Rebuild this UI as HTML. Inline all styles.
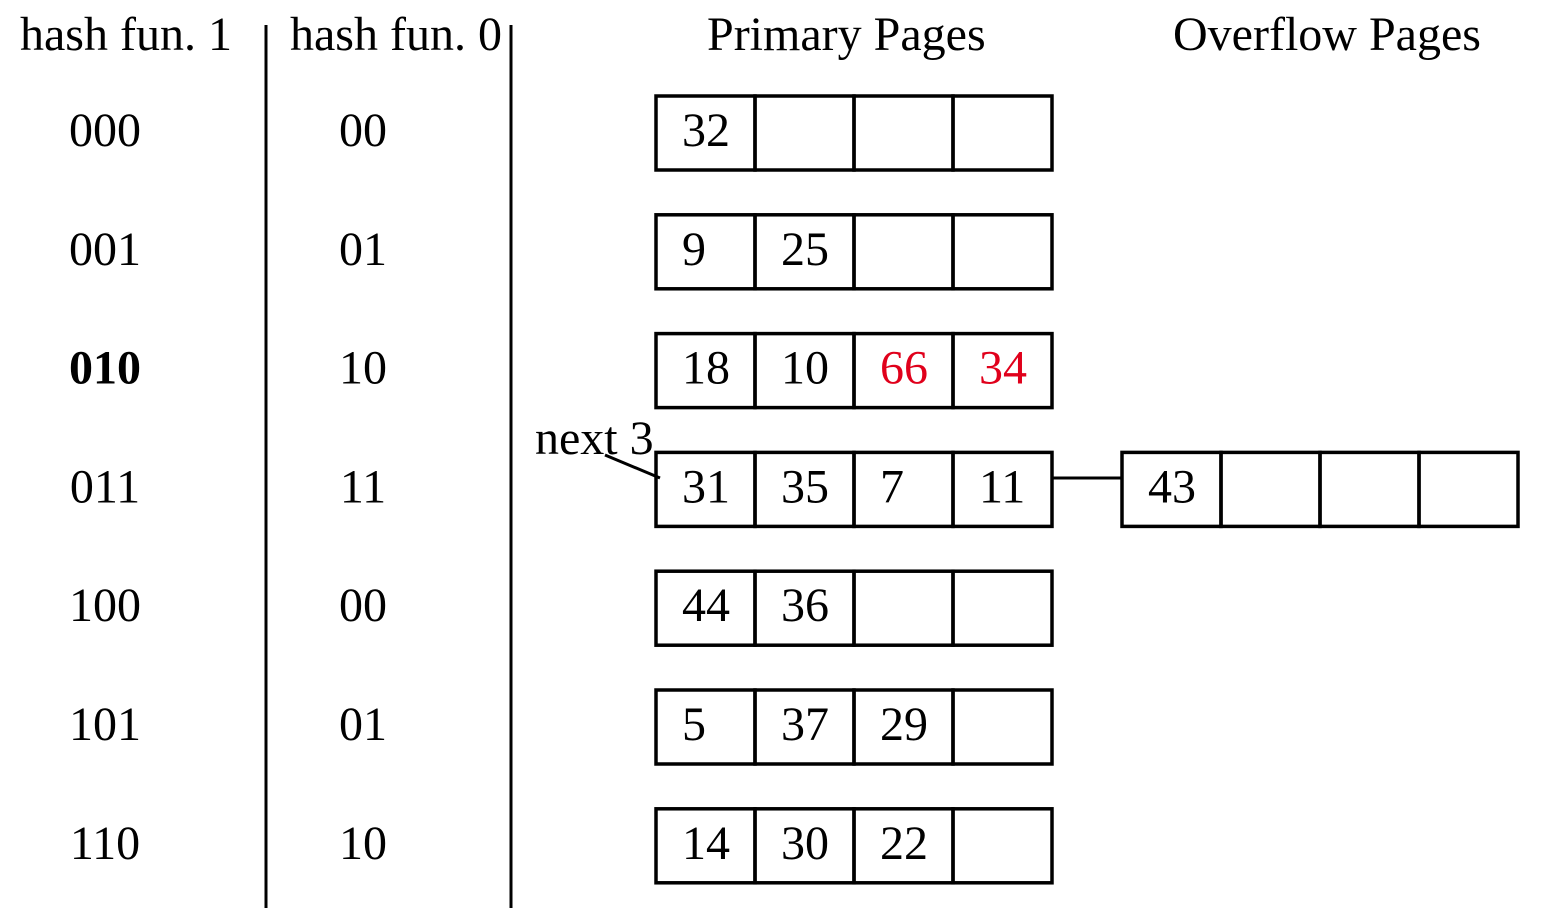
<!DOCTYPE html>
<html><head><meta charset="utf-8"><style>
html,body{margin:0;padding:0;background:#fff;}
svg{display:block;}
text{font-family:"Liberation Serif",serif;font-size:48px;fill:#000;}
</style></head><body>
<svg width="1542" height="912" viewBox="0 0 1542 912">
<text x="20" y="50">hash fun. 1</text>
<text x="290" y="50">hash fun. 0</text>
<text x="707" y="50">Primary Pages</text>
<text x="1173" y="50">Overflow Pages</text>
<line x1="266" y1="25" x2="266" y2="908" stroke="#000" stroke-width="3"/>
<line x1="511" y1="25" x2="511" y2="908" stroke="#000" stroke-width="3"/>
<g id="rows"></g>
<text x="535" y="454">next 3</text>
<line x1="605" y1="455" x2="660" y2="478" stroke="#000" stroke-width="3"/>
<line x1="1053" y1="478" x2="1122" y2="478" stroke="#000" stroke-width="3"/>
</svg>
<script>
const h1 = ["000","001","010","011","100","101","110"];
const h0 = ["00","01","10","11","00","01","10"];
const pages = [["32","","",""],["9","25","",""],["18","10","66","34"],["31","35","7","11"],["44","36","",""],["5","37","29",""],["14","30","22",""]];
const red = [[],[],[2,3],[],[],[],[]];
const overflow = ["43","","",""];
const NS="http://www.w3.org/2000/svg";
const g=document.getElementById('rows');
function t(x,y,s,opts){const e=document.createElementNS(NS,'text');e.setAttribute('x',x);e.setAttribute('y',y);e.textContent=s;
 if(opts&&opts.bold)e.setAttribute('font-weight','bold');if(opts&&opts.red)e.setAttribute('style','fill:#e0001b');
 if(opts&&opts.anchor)e.setAttribute('text-anchor',opts.anchor);g.appendChild(e);return e;}
function box(x0,top,vals,redIdx,name){
 for(let c=0;c<4;c++){const r=document.createElementNS(NS,'rect');
  r.setAttribute('x',x0+c*99);r.setAttribute('y',top);r.setAttribute('width',99);r.setAttribute('height',74);
  r.setAttribute('fill','none');r.setAttribute('stroke','#000');r.setAttribute('stroke-width','3.5');
  
  
  g.appendChild(r);
  if(vals[c]){const e=t(x0+c*99+26,top+50,vals[c],{red:redIdx.includes(c)});
   
   }
 }
}
for(let i=0;i<h1.length;i++){
 const cy=130+i*118.8;
 const a=t(105,cy+16,h1[i],{anchor:'middle',bold:i===2});
 
 
 const b=t(363,cy+16,h0[i],{anchor:'middle'});
 
 
 box(656,cy-34,pages[i],red[i],'primary-page-'+i);
}
box(1122,130+3*118.8-34,overflow,[],'overflow-page');
</script>
</body></html>
